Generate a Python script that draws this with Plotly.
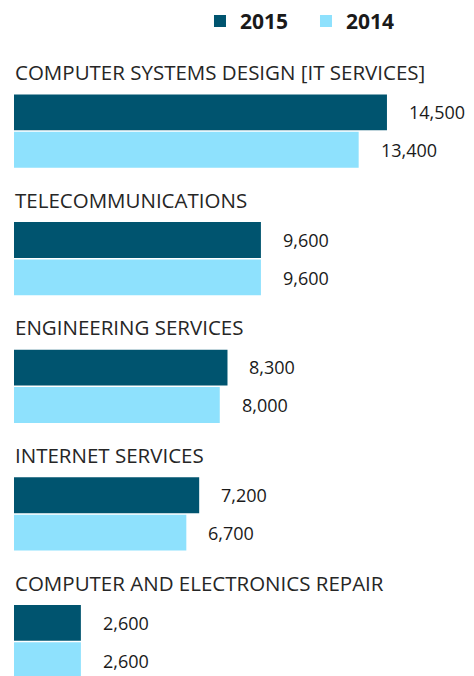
import plotly.graph_objects as go

categories = [
    "COMPUTER SYSTEMS DESIGN [IT SERVICES]",
    "TELECOMMUNICATIONS",
    "ENGINEERING SERVICES",
    "INTERNET SERVICES",
    "COMPUTER AND ELECTRONICS REPAIR",
]
values_2015 = [14500, 9600, 8300, 7200, 2600]
values_2014 = [13400, 9600, 8000, 6700, 2600]
series_names = ["2015", "2014"]

DARK = "#00546f"
LIGHT = "#8ee1fd"
FONT = "Open Sans"

fig = go.Figure()
fig.add_trace(go.Bar(name=series_names[0], y=categories, x=values_2015, orientation="h",
                     marker=dict(color=DARK, line=dict(width=0)), hoverinfo="skip"))
fig.add_trace(go.Bar(name=series_names[1], y=categories, x=values_2014, orientation="h",
                     marker=dict(color=LIGHT, line=dict(width=0)), hoverinfo="skip"))

annotations = []
for i, c in enumerate(categories):
    annotations.append(dict(x=0, y=c, xref="x", yref="y", text=c, showarrow=False,
                            xanchor="left", yanchor="middle", yshift=59, xshift=-1,
                            font=dict(family=FONT, size=20.5, color="#262626")))
    for v, off in ((values_2015[i], 19), (values_2014[i], -19)):
        annotations.append(dict(x=v, y=c, xref="x", yref="y", text=f"{v:,}", showarrow=False,
                                xanchor="left", yanchor="middle", xshift=20, yshift=off,
                                font=dict(family=FONT, size=18, color="#1a1a1a")))

fig.update_layout(
    width=466, height=668,
    margin=dict(l=6, r=0, t=32, b=0),
    paper_bgcolor="white", plot_bgcolor="white",
    barmode="group", bargap=0.414, bargroupgap=0.04,
    showlegend=True,
    legend=dict(orientation="h", xref="container", yref="container",
                x=0.412, xanchor="left", y=0.98, yanchor="middle",
                font=dict(family=FONT, size=21, color="#1a1a1a", weight="bold"),
                itemwidth=30, entrywidth=61, entrywidthmode="pixels",
                traceorder="normal", itemclick=False),
    xaxis=dict(range=[0, 17884], visible=False, fixedrange=True),
    yaxis=dict(range=[4.27, -0.699], visible=False, fixedrange=True),
    annotations=annotations,
    font=dict(family=FONT),
)

fig.write_html("out.html", config={"displayModeBar": False})
